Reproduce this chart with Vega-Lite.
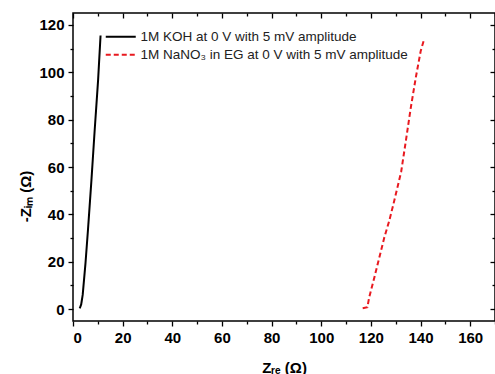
{
  "$schema": "https://vega.github.io/schema/vega-lite/v6.json",
  "width": 422,
  "height": 308,
  "autosize": {"type": "none"},
  "padding": {"left": 73, "top": 13, "right": 0, "bottom": 53},
  "background": "white",
  "config": {
    "view": {"stroke": "#000000", "strokeWidth": 1.5},
    "font": "Liberation Sans",
    "axis": {"domain": false, "grid": false, "tickColor": "#000000", "tickWidth": 1.3, "labelFont": "Liberation Sans", "labelFontWeight": "bold", "labelFontSize": 15, "labelColor": "#000000", "titleFont": "Liberation Sans", "titleFontWeight": "bold", "titleColor": "#000000"}
  },
  "data": {"values": [
    {"series": "1M KOH at 0 V with 5 mV amplitude", "zre": 2.7, "zim": 0.3, "i": 0},
    {"series": "1M KOH at 0 V with 5 mV amplitude", "zre": 3.3, "zim": 2, "i": 1},
    {"series": "1M KOH at 0 V with 5 mV amplitude", "zre": 3.9, "zim": 6, "i": 2},
    {"series": "1M KOH at 0 V with 5 mV amplitude", "zre": 5.0, "zim": 19, "i": 3},
    {"series": "1M KOH at 0 V with 5 mV amplitude", "zre": 6.0, "zim": 33, "i": 4},
    {"series": "1M KOH at 0 V with 5 mV amplitude", "zre": 7.4, "zim": 54, "i": 5},
    {"series": "1M KOH at 0 V with 5 mV amplitude", "zre": 8.7, "zim": 75, "i": 6},
    {"series": "1M KOH at 0 V with 5 mV amplitude", "zre": 10.1, "zim": 96.5, "i": 7},
    {"series": "1M KOH at 0 V with 5 mV amplitude", "zre": 11.1, "zim": 115.5, "i": 8},
    {"series": "1M NaNO₃ in EG at 0 V with 5 mV amplitude", "zre": 116.7, "zim": 0.4, "i": 0},
    {"series": "1M NaNO₃ in EG at 0 V with 5 mV amplitude", "zre": 118.6, "zim": 0.8, "i": 1},
    {"series": "1M NaNO₃ in EG at 0 V with 5 mV amplitude", "zre": 119.3, "zim": 4.9, "i": 2},
    {"series": "1M NaNO₃ in EG at 0 V with 5 mV amplitude", "zre": 121.4, "zim": 13.4, "i": 3},
    {"series": "1M NaNO₃ in EG at 0 V with 5 mV amplitude", "zre": 123.4, "zim": 21.8, "i": 4},
    {"series": "1M NaNO₃ in EG at 0 V with 5 mV amplitude", "zre": 125.4, "zim": 30.2, "i": 5},
    {"series": "1M NaNO₃ in EG at 0 V with 5 mV amplitude", "zre": 127.4, "zim": 37.3, "i": 6},
    {"series": "1M NaNO₃ in EG at 0 V with 5 mV amplitude", "zre": 129.1, "zim": 44.4, "i": 7},
    {"series": "1M NaNO₃ in EG at 0 V with 5 mV amplitude", "zre": 130.7, "zim": 51.4, "i": 8},
    {"series": "1M NaNO₃ in EG at 0 V with 5 mV amplitude", "zre": 132.2, "zim": 58, "i": 9},
    {"series": "1M NaNO₃ in EG at 0 V with 5 mV amplitude", "zre": 134.1, "zim": 71.1, "i": 10},
    {"series": "1M NaNO₃ in EG at 0 V with 5 mV amplitude", "zre": 136.1, "zim": 85.2, "i": 11},
    {"series": "1M NaNO₃ in EG at 0 V with 5 mV amplitude", "zre": 138.1, "zim": 97.8, "i": 12},
    {"series": "1M NaNO₃ in EG at 0 V with 5 mV amplitude", "zre": 140.1, "zim": 109.1, "i": 13},
    {"series": "1M NaNO₃ in EG at 0 V with 5 mV amplitude", "zre": 141.5, "zim": 114.1, "i": 14}
  ]},
  "resolve": {"axis": {"x": "independent", "y": "independent"}},
  "layer": [
    {
      "mark": {"type": "line", "strokeWidth": 2},
      "encoding": {
        "x": {"field": "zre", "type": "quantitative", "scale": {"domain": [0, 170], "nice": false, "zero": false},
          "axis": {"orient": "bottom", "values": [0, 20, 40, 60, 80, 100, 120, 140, 160], "tickSize": 5, "labelPadding": 4, "title": "Zᵣₑ (Ω)", "titleFontSize": 15, "titleBaseline": "top", "titleY": 39}},
        "y": {"field": "zim", "type": "quantitative", "scale": {"domain": [-5, 125], "nice": false, "zero": false},
          "axis": {"orient": "left", "values": [0, 20, 40, 60, 80, 100, 120], "tickSize": 5, "labelPadding": 4, "title": "-Zᵢₘ (Ω)", "titleFontSize": 15, "titleAngle": -90, "titleBaseline": "middle", "titleAlign": "center", "titleX": -48, "titleY": 183}},
        "color": {"field": "series", "type": "nominal",
          "scale": {"domain": ["1M KOH at 0 V with 5 mV amplitude", "1M NaNO₃ in EG at 0 V with 5 mV amplitude"], "range": ["#000000", "#e8191f"]},
          "legend": {"title": null, "orient": "none", "legendX": 41, "legendY": 17, "padding": 0, "symbolType": "M-3,0H3", "symbolSize": 100, "symbolStrokeWidth": 2, "symbolDash": [], "labelFont": "Liberation Sans", "labelFontSize": 13.5, "labelColor": "#222222", "labelOffset": 13, "labelLimit": 0, "rowPadding": 3}},
        "strokeDash": {"field": "series", "type": "nominal",
          "scale": {"domain": ["1M KOH at 0 V with 5 mV amplitude", "1M NaNO₃ in EG at 0 V with 5 mV amplitude"], "range": [[1, 0], [5, 3]]},
          "legend": null},
        "order": {"field": "i", "type": "quantitative"}
      }
    },
    {
      "mark": {"type": "line", "strokeOpacity": 0},
      "encoding": {
        "x": {"field": "zre", "type": "quantitative", "axis": {"orient": "bottom", "values": [10, 30, 50, 70, 90, 110, 130, 150, 170], "tickSize": 3, "labels": false, "title": null}},
        "y": {"field": "zim", "type": "quantitative", "axis": {"orient": "left", "values": [10, 30, 50, 70, 90, 110], "tickSize": 3, "labels": false, "title": null}},
        "detail": {"field": "series", "type": "nominal"}
      }
    },
    {
      "mark": {"type": "line", "strokeOpacity": 0},
      "encoding": {
        "x": {"field": "zre", "type": "quantitative", "axis": {"orient": "top", "values": [0, 20, 40, 60, 80, 100, 120, 140, 160], "tickSize": -5, "labels": false, "title": null}},
        "y": {"field": "zim", "type": "quantitative", "axis": {"orient": "right", "values": [0, 20, 40, 60, 80, 100, 120], "tickSize": -5, "labels": false, "title": null}},
        "detail": {"field": "series", "type": "nominal"}
      }
    },
    {
      "mark": {"type": "line", "strokeOpacity": 0},
      "encoding": {
        "x": {"field": "zre", "type": "quantitative", "axis": {"orient": "top", "values": [10, 30, 50, 70, 90, 110, 130, 150, 170], "tickSize": -3, "labels": false, "title": null}},
        "y": {"field": "zim", "type": "quantitative", "axis": {"orient": "right", "values": [10, 30, 50, 70, 90, 110], "tickSize": -3, "labels": false, "title": null}},
        "detail": {"field": "series", "type": "nominal"}
      }
    }
  ]
}
